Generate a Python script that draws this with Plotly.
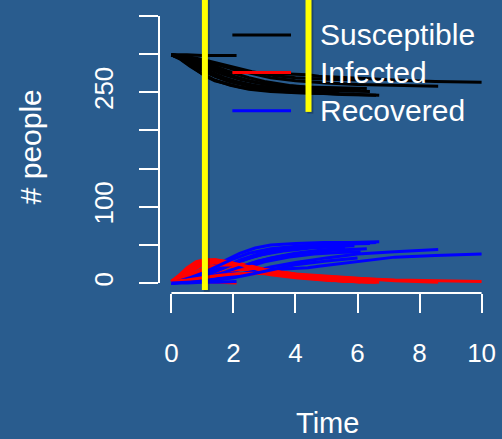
import plotly.graph_objects as go

# simulated runs of a stochastic SIR model
run_times = [
    [0, 0.5, 1.0, 1.5, 2.1],
    [0, 0.25, 0.5, 0.8, 1.1, 1.4, 1.8, 2.2, 2.7, 3.2, 4.0, 4.9, 5.8, 6.7],
    [0, 0.3, 0.6, 0.9, 1.3, 1.7, 2.2, 2.8, 3.5, 4.3, 5.2, 6.4],
    [0, 0.4, 0.8, 1.2, 1.6, 2.0, 2.6, 3.2, 4.0, 4.8, 5.6],
    [0, 0.5, 1.0, 1.5, 2.0, 2.5, 3.0, 3.8, 4.6, 5.4, 6.1],
    [0, 0.5, 1.0, 1.5, 2.0, 2.6, 3.2, 4.0, 5.0, 6.0, 7.2, 8.6],
    [0, 0.43, 1.0, 1.8, 2.5, 3.0, 4.4, 4.75, 6.0, 7.2, 8.5, 10.0],
    [0, 0.3, 0.7, 1.1, 1.5, 2.0, 2.6, 3.3, 4.2, 5.2],
    [0, 0.4, 0.9, 1.4, 1.9, 2.5, 3.1, 3.8, 4.6, 5.5, 6.6],
    [0, 0.35, 0.7, 1.0, 1.4, 1.8, 2.3, 2.9, 3.6, 4.5, 5.9],
    [0, 0.4, 0.8, 1.2, 1.7, 2.2, 2.8, 3.5, 4.3, 5.2, 6.3],
    [0, 0.3, 0.6, 1.0, 1.4, 1.9, 2.5, 3.2, 4.2, 5.4],
    [0, 0.5, 1.0, 1.5, 2.0, 2.6, 3.3, 4.0, 5.0, 6.0],
]
susceptible = [
    [299, 299, 298, 298, 298],
    [299, 295, 288, 279, 271, 265, 261, 257, 254, 252, 250, 249, 247, 246],
    [299, 296, 291, 284, 276, 269, 263, 258, 255, 253, 252, 251],
    [299, 297, 292, 285, 278, 271, 264, 259, 256, 254, 253],
    [299, 296, 290, 282, 275, 269, 264, 259, 256, 255, 254],
    [299, 296, 291, 286, 280, 274, 269, 265, 262, 260, 259, 258],
    [299, 295, 285, 277, 276, 275, 273, 271, 268, 266, 264, 263],
    [299, 294, 286, 277, 270, 264, 259, 256, 254, 253],
    [299, 293, 281, 271, 264, 258, 254, 251, 249, 247, 246],
    [299, 294, 287, 279, 271, 265, 260, 257, 255, 253, 252],
    [299, 295, 289, 281, 273, 267, 262, 259, 257, 256, 255],
    [299, 293, 284, 274, 266, 259, 254, 251, 249, 248],
    [299, 297, 293, 288, 283, 277, 272, 269, 267, 266],
]
infected = [
    [2, 2, 2, 1, 0],
    [2, 10, 20, 28, 31, 30, 26, 20, 15, 11, 7, 4, 2, 1],
    [2, 7, 15, 23, 29, 28, 24, 18, 12, 8, 4, 1],
    [2, 5, 12, 18, 22, 23, 20, 15, 10, 6, 2],
    [2, 6, 13, 19, 22, 21, 18, 13, 8, 4, 1],
    [2, 5, 10, 14, 17, 18, 16, 12, 9, 6, 3, 1],
    [2, 3, 5, 8, 12, 14, 10, 9, 6, 4, 3, 2],
    [2, 9, 18, 25, 27, 25, 20, 14, 8, 3],
    [2, 12, 24, 30, 28, 23, 17, 12, 7, 3, 1],
    [2, 9, 17, 24, 28, 27, 23, 17, 11, 6, 2],
    [2, 8, 15, 21, 24, 23, 19, 14, 9, 5, 2],
    [2, 11, 21, 29, 31, 27, 21, 15, 8, 3],
    [2, 4, 7, 10, 12, 13, 12, 9, 6, 3],
]
recovered = [
    [0, 0, 1, 1, 2],
    [0, 2, 5, 9, 15, 23, 31, 39, 46, 50, 52, 53, 53, 54],
    [0, 1, 3, 7, 13, 21, 30, 38, 44, 48, 51, 52],
    [0, 1, 3, 7, 12, 18, 26, 33, 39, 43, 46],
    [0, 1, 4, 9, 15, 22, 28, 34, 38, 40, 41],
    [0, 1, 3, 6, 10, 15, 21, 27, 33, 38, 41, 44],
    [0, 1, 3, 8, 14, 17, 20, 22, 28, 34, 36, 38],
    [0, 2, 5, 10, 17, 25, 34, 41, 46, 49],
    [0, 3, 9, 17, 25, 33, 40, 45, 48, 51, 53],
    [0, 2, 5, 9, 15, 22, 30, 37, 42, 46, 49],
    [0, 1, 4, 8, 14, 21, 29, 35, 40, 43, 45],
    [0, 3, 7, 13, 21, 30, 39, 45, 49, 51],
    [0, 1, 2, 4, 7, 12, 18, 24, 29, 33],
]

compartments = ["Susceptible", "Infected", "Recovered"]
comp_colors = ["#000000", "#ff0000", "#0000ff"]
marker_times = [1.08, 4.42]   # yellow vertical markers

x_ticks = [0, 2, 4, 6, 8, 10]
y_ticks = [0, 50, 100, 150, 200, 250, 300, 350]
y_ticktext = ["0", "", "100", "", "", "250", "", ""]

BG = "#295C8E"
FONT = "Liberation Sans, Arial, sans-serif"

fig = go.Figure()

# one S / I / R triple per run
for t, s, i, r in zip(run_times, susceptible, infected, recovered):
    for vals, col in zip([s, i, r], comp_colors):
        fig.add_trace(go.Scatter(
            x=t, y=vals, mode="lines",
            line=dict(color=col, width=3),
            showlegend=False, hoverinfo="skip",
        ))

shapes = []
# R style detached axes
shapes.append(dict(type="line", xref="paper", yref="y", x0=0, x1=0, y0=0, y1=350,
                   line=dict(color="white", width=2)))
shapes.append(dict(type="line", xref="x", yref="paper", x0=0, x1=10, y0=0, y1=0,
                   line=dict(color="white", width=2)))

# legend (lines + text)
legend_y = [0.899, 0.768, 0.635]
annotations = []
for name, col, ly in zip(compartments, comp_colors, legend_y):
    shapes.append(dict(type="line", xref="x", yref="paper", x0=1.965, x1=3.856, y0=ly, y1=ly,
                       line=dict(color=col, width=3), layer="above"))
    annotations.append(dict(text=name, xref="x", yref="paper", x=4.72, y=ly,
                            xanchor="left", yanchor="middle", showarrow=False,
                            font=dict(size=30, color="white", family=FONT)))

# yellow markers with a faint shadow
marker_spans = [(0.0105, 1.03), (0.631, 1.03)]
for mt, (y0, y1) in zip(marker_times, marker_spans):
    shapes.append(dict(type="line", xref="x", yref="paper", x0=mt + 0.06, x1=mt + 0.06,
                       y0=y0 - 0.006, y1=y1, line=dict(color="rgba(0,0,0,0.25)", width=6), layer="above"))
    shapes.append(dict(type="line", xref="x", yref="paper", x0=mt, x1=mt, y0=y0, y1=y1,
                       line=dict(color="#ffff00", width=6), layer="above"))

annotations.append(dict(text="Time", xref="paper", yref="paper", x=0.5037, y=-0.452,
                        xanchor="center", yanchor="middle", showarrow=False,
                        font=dict(size=29, color="white", family=FONT)))
annotations.append(dict(text="# people", xref="paper", yref="paper", x=-0.383, y=0.51,
                        xanchor="center", yanchor="middle", showarrow=False, textangle=-90,
                        font=dict(size=30, color="white", family=FONT)))

fig.update_layout(
    width=502, height=439,
    margin=dict(l=159, r=6, t=6, b=146),
    paper_bgcolor=BG, plot_bgcolor=BG,
    shapes=shapes, annotations=annotations,
    font=dict(family=FONT, color="white"),
    showlegend=False,
)
fig.update_xaxes(
    range=[-0.4, 10.4], tickvals=x_ticks, ticktext=[str(v) for v in x_ticks],
    showgrid=False, zeroline=False, showline=False,
    ticks="outside", ticklen=19, tickwidth=2, tickcolor="white",
    tickfont=dict(size=26, color="white", family=FONT), ticklabelstandoff=18,
)
fig.update_yaxes(
    range=[-13, 363], tickvals=y_ticks, ticktext=y_ticktext, tickangle=-90,
    showgrid=False, zeroline=False, showline=False,
    ticks="outside", ticklen=19, tickwidth=2, tickcolor="white",
    tickfont=dict(size=26, color="white", family=FONT), ticklabelstandoff=16,
)

# drop the default page margin so the figure fills the window
page_js = "document.body.style.margin='0'; document.body.style.background='" + BG + "';"
fig.write_html("out.html", post_script=page_js, config={"displayModeBar": False})
